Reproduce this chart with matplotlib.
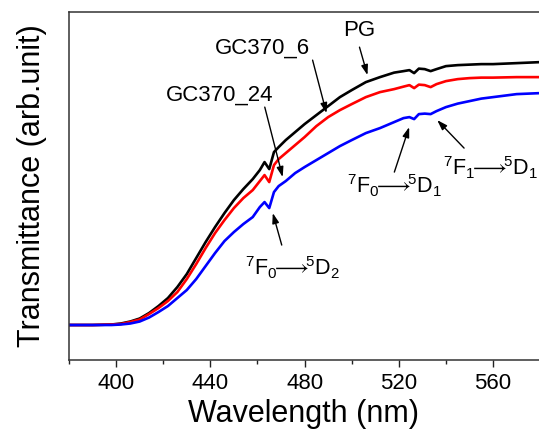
import matplotlib
matplotlib.use('Agg')
import matplotlib.pyplot as plt
from matplotlib.ticker import MultipleLocator

plt.rcParams['font.family'] = ['Liberation Sans', 'DejaVu Sans']
plt.rcParams['mathtext.fontset'] = 'custom'
plt.rcParams['mathtext.rm'] = 'Liberation Sans'
plt.rcParams['mathtext.it'] = 'Liberation Sans:italic'

# wavelength grid (nm) and transmittance (arb. unit)
wavelength = [380, 390, 398, 402, 406, 410, 414, 418, 422, 426,
              430, 434, 438, 442, 446, 450, 454, 458, 461, 463,
              465, 467, 469, 472, 476, 480, 485, 490, 495, 500,
              506, 512, 518, 522, 524.5, 526.5, 528.5, 531, 533.5, 536,
              540, 545, 550, 555, 560, 570, 580]
pg = [35, 35, 35.5, 36.5, 38.5, 41.5, 47, 54, 62, 73,
      86, 102, 118, 133, 147, 160, 171, 181, 190, 198,
      191, 208, 213, 220, 228, 236, 245, 254, 263, 270,
      278, 283, 287.5, 289, 290, 287, 291.5, 291, 289, 291,
      294, 295, 295.5, 296, 296, 297, 298]
gc370_6 = [35, 35, 35.5, 36, 38, 40.5, 46, 52, 59, 68,
           81, 96, 112, 127, 140, 152, 162, 170, 179, 185,
           178, 195, 201, 207, 215, 223, 234, 243, 250, 256,
           263, 268, 271, 273.5, 275, 272, 275.5, 275, 273, 276,
           279, 281, 282, 282.5, 282.5, 283, 283]
gc370_24 = [35, 35, 35, 35.5, 36.5, 38.5, 42.5, 48, 54, 62,
            70, 81, 94, 107, 119, 128, 136, 143, 153, 158,
            152, 168, 174, 179, 187, 193, 200, 207, 214, 220,
            227, 232, 238, 242, 243, 241, 246, 246.5, 246, 249,
            253, 256.5, 259, 261.5, 263, 266, 267]

series = [('PG', pg, 'black'), ('GC370_6', gc370_6, 'red'),
          ('GC370_24', gc370_24, 'blue')]

fig = plt.figure(figsize=(5.39, 4.34), dpi=100)
ax = fig.add_axes([0.128, 0.1705, 0.872, 0.8015])

for name, vals, col in series:
    ax.plot(wavelength, vals, color=col, lw=1.9, label=name)

ax.set_xlim(380, 579.5)
ax.set_ylim(0, 348)
ax.xaxis.set_major_locator(MultipleLocator(40))
ax.xaxis.set_minor_locator(MultipleLocator(20))
ax.set_yticks([])
ax.tick_params(axis='x', which='major', direction='out', length=5, width=1,
               labelsize=16, colors='#222222', pad=4)
ax.tick_params(axis='x', which='minor', direction='out', length=3, width=1,
               colors='#222222')
ax.tick_params(axis='x', labelcolor='black')
for side in ['left', 'bottom', 'top']:
    ax.spines[side].set_color('#333333')
    ax.spines[side].set_linewidth(1.1)
ax.spines['right'].set_visible(False)

ax.set_xlabel('Wavelength (nm)', fontsize=22, labelpad=4)
ax.set_ylabel('Transmittance (arb.unit)', fontsize=22, labelpad=16)


def transition(a, b, c, d):
    return (r'$\mathrm{^%s F_%s}{\!\!\longrightarrow\!\!}\mathrm{{}^%s D_%s}$'
            % (a, b, c, d))


# labels: (text, text position, arrow tail, arrow head, size)
notes = [
    ('PG', (503.3, 330), (503.3, 313), (506.7, 285), 16),
    ('GC370_6', (462.2, 312), (483.4, 300), (489.3, 247), 16),
    ('GC370_24', (444.0, 265), (463.1, 253), (470.7, 183), 16),
    (transition(7, 0, 5, 2), (474.9, 92), (470.3, 115), (466.5, 147), 15.5),
    (transition(7, 0, 5, 1), (518.1, 174), (518.1, 188), (524.4, 233), 15.5),
    (transition(7, 1, 5, 1), (559.0, 192), (547.7, 212), (536.3, 240), 15.5),
]
for txt, pos, tail, head, size in notes:
    ax.text(pos[0], pos[1], txt, fontsize=size, ha='center', va='center')
    ax.annotate('', xy=head, xytext=tail,
                arrowprops=dict(arrowstyle='-|>,head_length=0.6,head_width=0.2',
                                color='black', lw=1, shrinkA=0, shrinkB=0))

fig.savefig('out.png', dpi=100)
